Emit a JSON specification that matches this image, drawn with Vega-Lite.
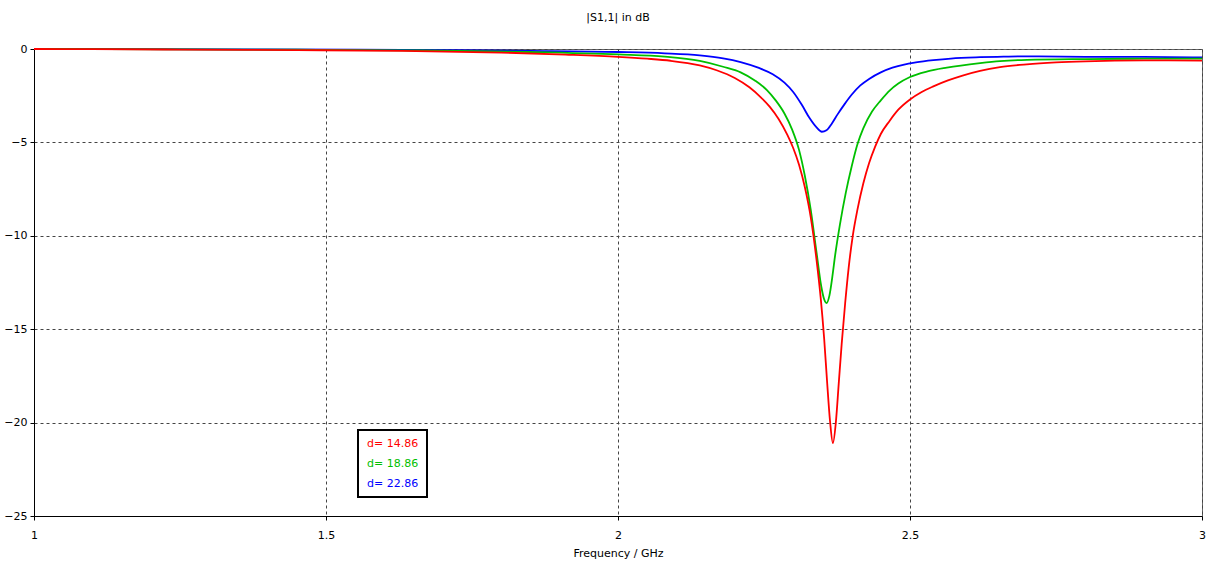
{
  "$schema": "https://vega.github.io/schema/vega-lite/v6.json",
  "autosize": "none",
  "width": 1168,
  "height": 467,
  "padding": {"left": 34, "top": 49, "right": 9, "bottom": 45},
  "background": "white",
  "title": {"text": "|S1,1| in dB", "anchor": "middle", "offset": 20, "fontSize": 11, "font": "DejaVu Sans", "fontWeight": "normal", "color": "#000"},
  "config": {
    "view": {"stroke": "#666", "strokeWidth": 1},
    "font": "DejaVu Sans",
    "axis": {"labelFont": "DejaVu Sans", "labelFontSize": 11, "labelColor": "#000", "titleFont": "DejaVu Sans", "titleFontSize": 11, "titleFontWeight": "normal", "titleColor": "#000", "gridColor": "#444", "gridDash": [3, 3], "gridWidth": 1, "gridOpacity": 1, "domainColor": "#000", "tickColor": "#000", "tickSize": 4, "labelPadding": 3}
  },
  "data": {"values": [
    {"d": "d= 22.86", "f": 1.00, "s": 0},
    {"d": "d= 22.86", "f": 1.40, "s": -0.02},
    {"d": "d= 22.86", "f": 1.63, "s": -0.05},
    {"d": "d= 22.86", "f": 1.85, "s": -0.10},
    {"d": "d= 22.86", "f": 2.00, "s": -0.16},
    {"d": "d= 22.86", "f": 2.08, "s": -0.23},
    {"d": "d= 22.86", "f": 2.14, "s": -0.34},
    {"d": "d= 22.86", "f": 2.18, "s": -0.5},
    {"d": "d= 22.86", "f": 2.21, "s": -0.7},
    {"d": "d= 22.86", "f": 2.24, "s": -1.0},
    {"d": "d= 22.86", "f": 2.265, "s": -1.35},
    {"d": "d= 22.86", "f": 2.285, "s": -1.8},
    {"d": "d= 22.86", "f": 2.30, "s": -2.3},
    {"d": "d= 22.86", "f": 2.315, "s": -3.0},
    {"d": "d= 22.86", "f": 2.328, "s": -3.7},
    {"d": "d= 22.86", "f": 2.34, "s": -4.2},
    {"d": "d= 22.86", "f": 2.349, "s": -4.43},
    {"d": "d= 22.86", "f": 2.357, "s": -4.35},
    {"d": "d= 22.86", "f": 2.366, "s": -4.0},
    {"d": "d= 22.86", "f": 2.376, "s": -3.5},
    {"d": "d= 22.86", "f": 2.388, "s": -2.95},
    {"d": "d= 22.86", "f": 2.40, "s": -2.45},
    {"d": "d= 22.86", "f": 2.415, "s": -1.95},
    {"d": "d= 22.86", "f": 2.43, "s": -1.6},
    {"d": "d= 22.86", "f": 2.45, "s": -1.25},
    {"d": "d= 22.86", "f": 2.47, "s": -1.0},
    {"d": "d= 22.86", "f": 2.49, "s": -0.83},
    {"d": "d= 22.86", "f": 2.51, "s": -0.72},
    {"d": "d= 22.86", "f": 2.54, "s": -0.6},
    {"d": "d= 22.86", "f": 2.57, "s": -0.51},
    {"d": "d= 22.86", "f": 2.62, "s": -0.44},
    {"d": "d= 22.86", "f": 2.66, "s": -0.41},
    {"d": "d= 22.86", "f": 2.70, "s": -0.39},
    {"d": "d= 22.86", "f": 2.72, "s": -0.40},
    {"d": "d= 22.86", "f": 2.80, "s": -0.42},
    {"d": "d= 22.86", "f": 2.90, "s": -0.42},
    {"d": "d= 22.86", "f": 3.00, "s": -0.45},
    {"d": "d= 18.86", "f": 1.00, "s": 0},
    {"d": "d= 18.86", "f": 1.25, "s": -0.02},
    {"d": "d= 18.86", "f": 1.45, "s": -0.04},
    {"d": "d= 18.86", "f": 1.63, "s": -0.07},
    {"d": "d= 18.86", "f": 1.85, "s": -0.16},
    {"d": "d= 18.86", "f": 2.00, "s": -0.29},
    {"d": "d= 18.86", "f": 2.08, "s": -0.41},
    {"d": "d= 18.86", "f": 2.14, "s": -0.64},
    {"d": "d= 18.86", "f": 2.18, "s": -0.95},
    {"d": "d= 18.86", "f": 2.21, "s": -1.25},
    {"d": "d= 18.86", "f": 2.235, "s": -1.7},
    {"d": "d= 18.86", "f": 2.255, "s": -2.2},
    {"d": "d= 18.86", "f": 2.27, "s": -2.75},
    {"d": "d= 18.86", "f": 2.285, "s": -3.45},
    {"d": "d= 18.86", "f": 2.298, "s": -4.3},
    {"d": "d= 18.86", "f": 2.31, "s": -5.4},
    {"d": "d= 18.86", "f": 2.32, "s": -6.8},
    {"d": "d= 18.86", "f": 2.33, "s": -8.6},
    {"d": "d= 18.86", "f": 2.34, "s": -10.9},
    {"d": "d= 18.86", "f": 2.348, "s": -12.7},
    {"d": "d= 18.86", "f": 2.353, "s": -13.4},
    {"d": "d= 18.86", "f": 2.357, "s": -13.6},
    {"d": "d= 18.86", "f": 2.362, "s": -13.2},
    {"d": "d= 18.86", "f": 2.367, "s": -12.2},
    {"d": "d= 18.86", "f": 2.372, "s": -11.0},
    {"d": "d= 18.86", "f": 2.38, "s": -9.4},
    {"d": "d= 18.86", "f": 2.39, "s": -7.7},
    {"d": "d= 18.86", "f": 2.40, "s": -6.3},
    {"d": "d= 18.86", "f": 2.41, "s": -5.1},
    {"d": "d= 18.86", "f": 2.42, "s": -4.25},
    {"d": "d= 18.86", "f": 2.435, "s": -3.35},
    {"d": "d= 18.86", "f": 2.45, "s": -2.75},
    {"d": "d= 18.86", "f": 2.466, "s": -2.2},
    {"d": "d= 18.86", "f": 2.48, "s": -1.85},
    {"d": "d= 18.86", "f": 2.50, "s": -1.5},
    {"d": "d= 18.86", "f": 2.53, "s": -1.2},
    {"d": "d= 18.86", "f": 2.563, "s": -1.0},
    {"d": "d= 18.86", "f": 2.62, "s": -0.76},
    {"d": "d= 18.86", "f": 2.654, "s": -0.65},
    {"d": "d= 18.86", "f": 2.70, "s": -0.58},
    {"d": "d= 18.86", "f": 2.80, "s": -0.54},
    {"d": "d= 18.86", "f": 2.90, "s": -0.52},
    {"d": "d= 18.86", "f": 3.00, "s": -0.52},
    {"d": "d= 14.86", "f": 1.00, "s": 0},
    {"d": "d= 14.86", "f": 1.10, "s": -0.01},
    {"d": "d= 14.86", "f": 1.25, "s": -0.03},
    {"d": "d= 14.86", "f": 1.45, "s": -0.06},
    {"d": "d= 14.86", "f": 1.63, "s": -0.10},
    {"d": "d= 14.86", "f": 1.80, "s": -0.19},
    {"d": "d= 14.86", "f": 1.91, "s": -0.30},
    {"d": "d= 14.86", "f": 2.00, "s": -0.42},
    {"d": "d= 14.86", "f": 2.05, "s": -0.52},
    {"d": "d= 14.86", "f": 2.09, "s": -0.63},
    {"d": "d= 14.86", "f": 2.14, "s": -0.88},
    {"d": "d= 14.86", "f": 2.17, "s": -1.15},
    {"d": "d= 14.86", "f": 2.20, "s": -1.55},
    {"d": "d= 14.86", "f": 2.225, "s": -2.05},
    {"d": "d= 14.86", "f": 2.245, "s": -2.6},
    {"d": "d= 14.86", "f": 2.26, "s": -3.1},
    {"d": "d= 14.86", "f": 2.275, "s": -3.75},
    {"d": "d= 14.86", "f": 2.29, "s": -4.6},
    {"d": "d= 14.86", "f": 2.30, "s": -5.3},
    {"d": "d= 14.86", "f": 2.31, "s": -6.2},
    {"d": "d= 14.86", "f": 2.32, "s": -7.4},
    {"d": "d= 14.86", "f": 2.33, "s": -9.0},
    {"d": "d= 14.86", "f": 2.34, "s": -11.3},
    {"d": "d= 14.86", "f": 2.347, "s": -13.3},
    {"d": "d= 14.86", "f": 2.353, "s": -15.5},
    {"d": "d= 14.86", "f": 2.358, "s": -17.8},
    {"d": "d= 14.86", "f": 2.363, "s": -19.9},
    {"d": "d= 14.86", "f": 2.368, "s": -21.1},
    {"d": "d= 14.86", "f": 2.373, "s": -20.0},
    {"d": "d= 14.86", "f": 2.378, "s": -17.9},
    {"d": "d= 14.86", "f": 2.383, "s": -15.8},
    {"d": "d= 14.86", "f": 2.389, "s": -13.6},
    {"d": "d= 14.86", "f": 2.395, "s": -11.7},
    {"d": "d= 14.86", "f": 2.402, "s": -10.0},
    {"d": "d= 14.86", "f": 2.41, "s": -8.6},
    {"d": "d= 14.86", "f": 2.42, "s": -7.2},
    {"d": "d= 14.86", "f": 2.43, "s": -6.1},
    {"d": "d= 14.86", "f": 2.44, "s": -5.25},
    {"d": "d= 14.86", "f": 2.45, "s": -4.55},
    {"d": "d= 14.86", "f": 2.465, "s": -3.85},
    {"d": "d= 14.86", "f": 2.48, "s": -3.25},
    {"d": "d= 14.86", "f": 2.50, "s": -2.7},
    {"d": "d= 14.86", "f": 2.52, "s": -2.3},
    {"d": "d= 14.86", "f": 2.54, "s": -2.0},
    {"d": "d= 14.86", "f": 2.565, "s": -1.68},
    {"d": "d= 14.86", "f": 2.59, "s": -1.42},
    {"d": "d= 14.86", "f": 2.62, "s": -1.17},
    {"d": "d= 14.86", "f": 2.654, "s": -0.97},
    {"d": "d= 14.86", "f": 2.70, "s": -0.82},
    {"d": "d= 14.86", "f": 2.75, "s": -0.72},
    {"d": "d= 14.86", "f": 2.80, "s": -0.66},
    {"d": "d= 14.86", "f": 2.90, "s": -0.61},
    {"d": "d= 14.86", "f": 3.00, "s": -0.62}
  ]},
  "encoding": {
    "x": {"field": "f", "type": "quantitative", "scale": {"domain": [1, 3], "nice": false, "zero": false},
      "axis": {"values": [1, 1.5, 2, 2.5, 3], "format": "~g", "title": "Frequency / GHz", "titlePadding": 7, "labelPadding": 9, "labelFlush": false}},
    "y": {"field": "s", "type": "quantitative", "scale": {"domain": [-25, 0], "nice": false},
      "axis": {"values": [-25, -20, -15, -10, -5, 0], "title": null, "labelPadding": 3}},
    "color": {"field": "d", "type": "nominal",
      "scale": {"domain": ["d= 14.86", "d= 18.86", "d= 22.86"], "range": ["#ff0000", "#00c000", "#0000ff"]},
      "legend": {"title": null, "orient": "none", "legendX": 324, "legendY": 381, "symbolOpacity": 0, "symbolSize": 0, "symbolStrokeWidth": 0, "labelOffset": -10, "labelFontSize": 11, "labelFont": "DejaVu Sans", "padding": 8, "rowPadding": 8,
        "strokeColor": "#000",
        "encode": {"labels": {"update": {"fill": {"scale": "color", "field": "value"}}}, "legend": {"update": {"strokeWidth": {"value": 2}, "stroke": {"value": "#000"}}}}}}
  },
  "layer": [
    {"transform": [{"filter": "datum.d === 'd= 22.86'"}], "mark": {"type": "line", "strokeWidth": 1.8, "interpolate": "monotone"}},
    {"transform": [{"filter": "datum.d === 'd= 18.86'"}], "mark": {"type": "line", "strokeWidth": 1.8, "interpolate": "monotone"}},
    {"transform": [{"filter": "datum.d === 'd= 14.86'"}], "mark": {"type": "line", "strokeWidth": 1.8, "interpolate": "monotone"}}
  ]
}
